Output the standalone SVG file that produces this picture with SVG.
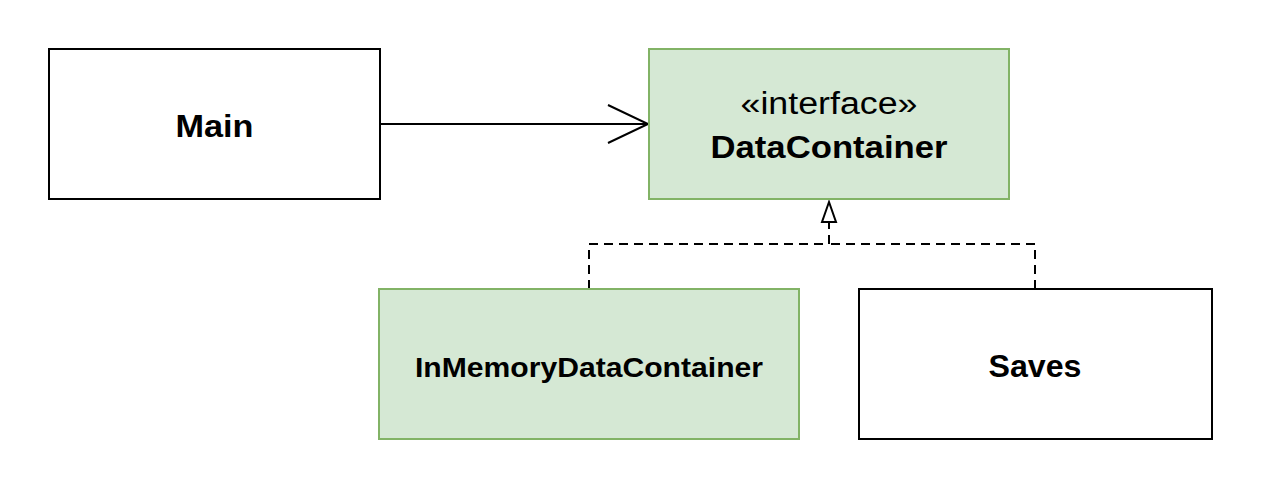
<svg xmlns="http://www.w3.org/2000/svg" width="1263" height="489" viewBox="0 0 1263 489">
<style>
.box{fill:#ffffff;stroke:#000000;stroke-width:2}
.green{fill:#d5e8d4;stroke:#82b366;stroke-width:2}
.b{font-family:"Liberation Sans",Arial,sans-serif;font-weight:bold;fill:#000;text-anchor:middle}
.r{font-family:"Liberation Sans",Arial,sans-serif;fill:#000;text-anchor:middle}
.edge{fill:none;stroke:#000;stroke-width:2}
.dash{fill:none;stroke:#000;stroke-width:2;stroke-dasharray:9 6}
</style>
<rect width="1263" height="489" fill="#ffffff"/>
<g id="connectors">
<path class="edge" d="M380 124 L648 124"/>
<path class="edge" d="M608 105 L648 124 L608 143"/>
<path class="dash" d="M589 289 L589 244 L829 244 L829 223"/>
<path class="dash" d="M1035 289 L1035 244 L829 244"/>
<path d="M829 202 L822 222 L836 222 Z" fill="#ffffff" stroke="#000" stroke-width="2"/>
</g>
<g id="main">
<rect class="box" x="49" y="49" width="331" height="150"/>
<text class="b" x="214.5" y="137" font-size="32" textLength="78" lengthAdjust="spacingAndGlyphs">Main</text>
</g>
<g id="datacontainer">
<rect class="green" x="649" y="49" width="360" height="150"/>
<text class="r" x="829" y="114" font-size="31" textLength="177" lengthAdjust="spacingAndGlyphs">«interface»</text>
<text class="b" x="829" y="158" font-size="31" textLength="237" lengthAdjust="spacingAndGlyphs">DataContainer</text>
</g>
<g id="inmemory">
<rect class="green" x="379" y="289" width="420" height="150"/>
<text class="b" x="589" y="377" font-size="28" textLength="348" lengthAdjust="spacingAndGlyphs">InMemoryDataContainer</text>
</g>
<g id="saves">
<rect class="box" x="859" y="289" width="353" height="150"/>
<text class="b" x="1035" y="377" font-size="31" textLength="93" lengthAdjust="spacingAndGlyphs">Saves</text>
</g>
</svg>
